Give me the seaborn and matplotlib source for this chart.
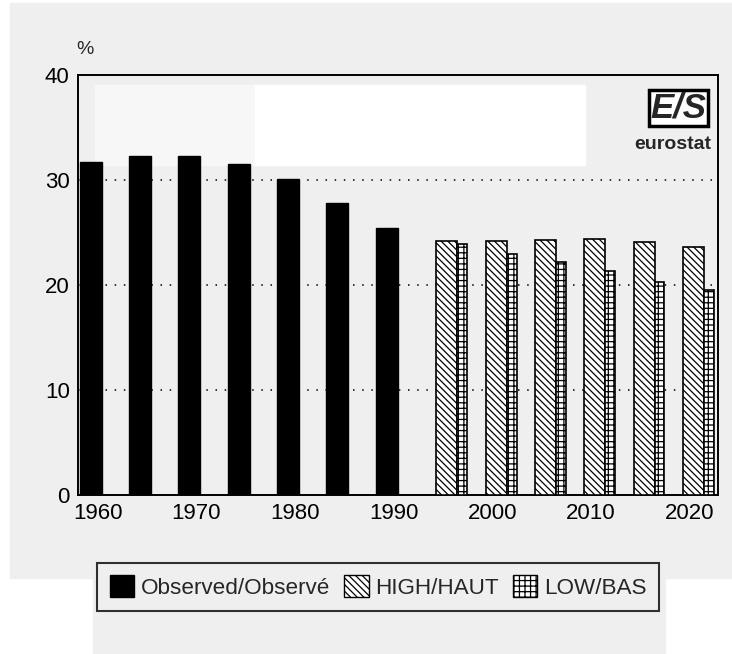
import matplotlib
matplotlib.use("Agg")
import matplotlib.pyplot as plt
import matplotlib.patches as mpatches
import seaborn as sns

# observed share (%) and the two projection variants
obs_years = [1960, 1965, 1970, 1975, 1980, 1985, 1990]
obs_values = [31.7, 32.3, 32.3, 31.5, 30.1, 27.8, 25.4]

proj_years = [1995, 2000, 2005, 2010, 2015, 2020]
high_values = [24.2, 24.2, 24.3, 24.4, 24.1, 23.6]
low_values = [23.9, 23.0, 22.2, 21.3, 20.3, 19.5]

tick_years = [1960, 1970, 1980, 1990, 2000, 2010, 2020]
y_ticks = [0, 10, 20, 30, 40]

HIGH_HATCH = "\\" * 5
LOW_HATCH = "+++"

sns.set_theme(style="white")
plt.rcParams["font.family"] = ["Liberation Sans", "DejaVu Sans"]
plt.rcParams["hatch.linewidth"] = 0.9

W, H = 732, 654
fig = plt.figure(figsize=(W / 100, H / 100), dpi=100, facecolor="white")

# scanned-page background blocks
fig.patches.append(mpatches.Rectangle((10 / W, 1 - 578 / H), 722 / W, 575 / H,
                                      transform=fig.transFigure, color="#efefef", zorder=-10))
fig.patches.append(mpatches.Rectangle((93 / W, 0), 572 / W, 1 - 578 / H,
                                      transform=fig.transFigure, color="#efefef", zorder=-10))

ax = fig.add_axes([78 / W, 1 - 495 / H, 640 / W, 420 / H])
ax.set_facecolor("#efefef")

# blanked title area inside the plot
ax.add_patch(mpatches.Rectangle((17 / 640, 1 - 90 / 420), 160 / 640, 80 / 420,
                                transform=ax.transAxes, color="#f7f7f7", zorder=0))
ax.add_patch(mpatches.Rectangle((177 / 640, 1 - 90 / 420), 330 / 640, 80 / 420,
                                transform=ax.transAxes, color="white", zorder=0))

sns.barplot(x=obs_years, y=obs_values, native_scale=True, width=0.445,
            color="black", edgecolor="black", linewidth=1, errorbar=None,
            ax=ax, zorder=3)
sns.barplot(x=[y + 1.1 for y in proj_years], y=high_values, native_scale=True,
            width=0.425, color="white", edgecolor="black", linewidth=1.2,
            hatch=HIGH_HATCH, errorbar=None, ax=ax, zorder=3)
sns.barplot(x=[y + 2.67 for y in proj_years], y=low_values, native_scale=True,
            width=0.2, color="white", edgecolor="black", linewidth=1.2,
            hatch=LOW_HATCH, errorbar=None, ax=ax, zorder=3)

ax.set_xlim(1958.7, 2023.6)
ax.set_ylim(0, 40)
ax.set_xticks([y + 0.7 for y in tick_years])
ax.set_xticklabels([str(y) for y in tick_years], fontsize=16)
ax.set_yticks(y_ticks)
ax.set_yticklabels([str(v) for v in y_ticks], fontsize=16)
ax.tick_params(length=0, pad=6, colors="black")
ax.set_xlabel("")
ax.set_ylabel("")

for v in [10, 20, 30]:
    ax.axhline(v, color="black", linestyle=(0, (1, 5)), linewidth=1.1, zorder=1)

for s in ax.spines.values():
    s.set_visible(True)
    s.set_color("black")
    s.set_linewidth(1.4)

fig.text(85 / W, 1 - 50 / H, "%", fontsize=14, ha="center", va="center")

# eurostat logo
ax.text(0.982, 0.922, "E/S", transform=ax.transAxes, fontsize=25, fontweight="bold",
        fontstyle="italic", ha="right", va="center", zorder=5,
        bbox=dict(boxstyle="square,pad=0.05", facecolor="white", edgecolor="black", linewidth=2.5))
ax.text(0.99, 0.835, "eurostat", transform=ax.transAxes, fontsize=14,
        fontweight="bold", ha="right", va="center", zorder=5)

handles = [
    mpatches.Patch(facecolor="black", edgecolor="black", label="Observed/Observé"),
    mpatches.Patch(facecolor="white", edgecolor="black", hatch=HIGH_HATCH, label="HIGH/HAUT"),
    mpatches.Patch(facecolor="white", edgecolor="black", hatch=LOW_HATCH, label="LOW/BAS"),
]
leg = fig.legend(handles=handles, loc="center", bbox_to_anchor=(378 / W, 1 - 587 / H),
                 ncol=3, fontsize=16.2, frameon=True, fancybox=False, edgecolor="black",
                 facecolor="#efefef", handlelength=1.1, handleheight=1.1,
                 handletextpad=0.3, columnspacing=0.6, borderpad=0.55)
leg.get_frame().set_linewidth(1.5)

fig.savefig("out.png", dpi=100, facecolor=fig.get_facecolor())
